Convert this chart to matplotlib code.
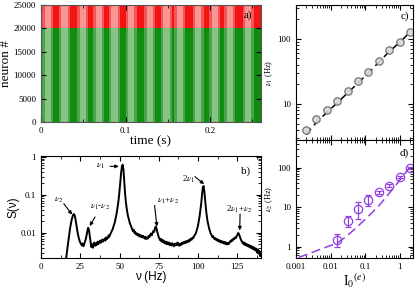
import numpy as np
import matplotlib
matplotlib.use('Agg')
import matplotlib.pyplot as plt
from matplotlib.ticker import MultipleLocator, LogLocator, NullFormatter, FixedLocator, FixedFormatter

plt.rcParams['font.family'] = ['Liberation Serif', 'DejaVu Serif']
plt.rcParams['mathtext.fontset'] = 'stix'

# ---- panel a: raster, times of the low-activity (speckled) bands, seconds
band_centers = [0.0079, 0.0277, 0.0494, 0.0684, 0.0870, 0.1067, 0.1285,
                0.1482, 0.1640, 0.1858, 0.2055, 0.2233, 0.2451]
band_width = 0.013
n_exc = 20000
n_tot = 25000

# ---- panel b: spectrum, sampled every 0.5 Hz from 16 to 140 Hz
nu = np.arange(16.0, 140.01, 0.5)
S = [0.0021, 0.0030, 0.0045, 0.0065, 0.0090, 0.013, 0.017, 0.022, 0.026, 0.030,
     0.031, 0.028, 0.022, 0.016, 0.012, 0.009, 0.0075, 0.0062, 0.0055, 0.0050,
     0.0046, 0.0052, 0.0044, 0.0050, 0.0058, 0.0068, 0.0085, 0.011, 0.0135, 0.012,
     0.0085, 0.0060, 0.0042, 0.0050, 0.0040, 0.0048, 0.0055, 0.0045, 0.0052, 0.0048,
     0.0058, 0.0050, 0.0056, 0.0062, 0.0054, 0.0060, 0.0066, 0.0058, 0.0064, 0.0070,
     0.0062, 0.0075, 0.0068, 0.0072, 0.0085, 0.0078, 0.0090, 0.0098, 0.011, 0.012,
     0.014, 0.016, 0.019, 0.024, 0.030, 0.040, 0.055, 0.080, 0.13, 0.22,
     0.38, 0.55, 0.62, 0.45, 0.22, 0.11, 0.065, 0.045, 0.033, 0.026,
     0.022, 0.018, 0.016, 0.014, 0.0125, 0.011, 0.012, 0.0098, 0.0105, 0.0090,
     0.0095, 0.0085, 0.0092, 0.0080, 0.0088, 0.0078, 0.0084, 0.0075, 0.0082, 0.0076,
     0.0070, 0.0078, 0.0068, 0.0074, 0.0070, 0.0082, 0.0076, 0.0088, 0.0095, 0.0085,
     0.0098, 0.011, 0.0105, 0.013, 0.0145, 0.013, 0.0105, 0.0088, 0.0075, 0.0068,
     0.0062, 0.0068, 0.0058, 0.0064, 0.0055, 0.0060, 0.0052, 0.0058, 0.0050, 0.0056,
     0.0049, 0.0055, 0.0047, 0.0052, 0.0046, 0.0053, 0.0048, 0.0044, 0.0051, 0.0046,
     0.0052, 0.0047, 0.0055, 0.0049, 0.0045, 0.0051, 0.0047, 0.0054, 0.0050, 0.0056,
     0.0052, 0.0058, 0.0053, 0.0060, 0.0056, 0.0062, 0.0058, 0.0066, 0.0062, 0.0070,
     0.0066, 0.0075, 0.0072, 0.0082, 0.0088, 0.0095, 0.011, 0.013, 0.016, 0.021,
     0.028, 0.040, 0.060, 0.100, 0.155, 0.17, 0.12, 0.070, 0.042, 0.028,
     0.020, 0.016, 0.013, 0.011, 0.0095, 0.0088, 0.0078, 0.0082, 0.0072, 0.0068,
     0.0072, 0.0064, 0.0068, 0.0060, 0.0065, 0.0058, 0.0062, 0.0055, 0.0060, 0.0054,
     0.0058, 0.0052, 0.0057, 0.0050, 0.0055, 0.0049, 0.0054, 0.0050, 0.0056, 0.0060,
     0.0058, 0.0065, 0.0062, 0.0070, 0.0068, 0.0075, 0.0072, 0.0080, 0.0090, 0.0098,
     0.0092, 0.0080, 0.0070, 0.0062, 0.0058, 0.0052, 0.0056, 0.0048, 0.0053, 0.0046,
     0.0050, 0.0044, 0.0048, 0.0042, 0.0046, 0.0040, 0.0044, 0.0038, 0.0042, 0.0036,
     0.0040, 0.0034, 0.0038, 0.0030, 0.0036, 0.0028, 0.0033, 0.0024, 0.0030]

# ---- panels c, d
I0 = [0.00195, 0.0039, 0.0078, 0.0156, 0.03125, 0.0625, 0.125, 0.25, 0.5, 1.0, 2.0]
nu1_sim = [3.94, 5.9, 8.2, 11.2, 16.0, 22.2, 31.3, 46.0, 68.0, 89.0, 129.0]
nu1_theory = [3.4, 5.2, 7.4, 10.4, 14.8, 21.0, 30.0, 44.0, 64.0, 88.0, 128.0]

I0_d = [0.0156, 0.03125, 0.0625, 0.125, 0.25, 0.5, 1.0, 2.0]
nu2_sim = [1.5, 4.5, 9.0, 15.0, 24.0, 35.0, 57.0, 98.0]
nu2_lo = [0.5, 1.4, 4.0, 4.6, 2.0, 3.0, 3.0, 4.0]
nu2_hi = [0.6, 1.5, 4.2, 5.0, 2.0, 3.0, 3.0, 4.0]
I0_theory_d = [0.0012, 0.002, 0.0039, 0.0078, 0.0156, 0.031, 0.0625, 0.125, 0.25, 0.5, 1.0, 2.0]
nu2_theory = [0.53, 0.62, 0.78, 0.98, 1.22, 1.9, 3.3, 5.9, 10.8, 22.5, 48.0, 105.0]

purple = '#9040e0'
tick_kw = dict(direction='in', top=True, right=True, labelsize=6.5)

fig = plt.figure(figsize=(4.15, 2.96), dpi=100)

# ----- a
ax = fig.add_axes([0.0988, 0.588, 0.530, 0.395])
ax.axhspan(0, n_exc, color='#118c11', lw=0)
ax.axhspan(n_exc, n_tot, color='#f21414', lw=0)
for t in band_centers:
    # wide, mildly speckled halo and a lighter core
    ax.fill_between([t - band_width / 2, t + band_width / 2], 0, n_exc, color='#4aa44a', lw=0)
    ax.fill_between([t - band_width / 3.5, t + band_width / 3.5], 0, n_exc, color='#86c486', lw=0)
    ax.fill_between([t - band_width / 2, t + band_width / 2], n_exc, n_tot, color='#f55656', lw=0)
    ax.fill_between([t - band_width / 3.5, t + band_width / 3.5], n_exc, n_tot, color='#f99595', lw=0)
ax.set_xlim(0, 0.26)
ax.set_ylim(0, n_tot)
ax.xaxis.set_major_locator(FixedLocator([0, 0.1, 0.2]))
ax.xaxis.set_major_formatter(FixedFormatter(['0', '0.1', '0.2']))
ax.xaxis.set_minor_locator(MultipleLocator(0.05))
ax.yaxis.set_major_locator(MultipleLocator(5000))
ax.tick_params(**tick_kw)
ax.tick_params(which='minor', direction='in', top=True)
ax.set_xlabel('time (s)', fontsize=9.5, labelpad=0)
ax.set_ylabel('neuron #', fontsize=9.5, labelpad=1)
ax.text(0.94, 0.91, 'a)', transform=ax.transAxes, fontsize=8, ha='center', va='center')
for s in ax.spines.values():
    s.set_color('#555555')

# ----- b
ax = fig.add_axes([0.0988, 0.127, 0.530, 0.346])
ax.plot(nu, S, color='black', lw=1.4)
ax.set_yscale('log')
ax.set_xlim(0, 140)
ax.set_ylim(0.0021, 1.05)
ax.xaxis.set_major_locator(MultipleLocator(25))
ax.xaxis.set_minor_locator(MultipleLocator(12.5))
ax.yaxis.set_major_locator(FixedLocator([0.01, 0.1, 1]))
ax.yaxis.set_major_formatter(FixedFormatter(['0.01', '0.1', '1']))
ax.yaxis.set_minor_locator(LogLocator(base=10, subs=np.arange(2, 10)))
ax.yaxis.set_minor_formatter(NullFormatter())
ax.tick_params(**tick_kw)
ax.tick_params(which='minor', direction='in', top=True, right=True, length=2)
ax.set_xlabel('ν (Hz)', fontsize=8.5, family=['Liberation Sans'], labelpad=0)
ax.set_ylabel('S(ν)', fontsize=8.5, family=['Liberation Sans'], labelpad=1)
ax.text(0.93, 0.85, 'b)', transform=ax.transAxes, fontsize=8, ha='center', va='center')

arrows = [
    (r'$\nu_2$', (11.5, 0.074), (14.5, 0.058), (19.8, 0.030)),
    (r'$\nu_1$-$\nu_2$', (37.5, 0.049), (34.4, 0.026), (31.0, 0.015)),
    (r'$\nu_1$', (37.6, 0.59), (44.0, 0.56), (49.5, 0.56)),
    (r'$\nu_1$+$\nu_2$', (80.6, 0.069), (72.3, 0.052), (73.8, 0.0145)),
    (r'2$\nu_1$', (94.2, 0.26), (98.0, 0.30), (103.8, 0.19)),
    (r'2$\nu_1$+$\nu_2$', (126.2, 0.040), (126.7, 0.031), (126.5, 0.0115)),
]
for label, tpos, tail, head in arrows:
    ax.text(tpos[0], tpos[1], label, fontsize=6.5, ha='center', va='center')
    ax.annotate('', xy=head, xytext=tail,
                arrowprops=dict(arrowstyle='-|>', color='black', lw=0.8,
                                mutation_scale=5, shrinkA=0, shrinkB=0))

# ----- c
ax = fig.add_axes([0.713, 0.527, 0.282, 0.456])
ax.plot(I0, nu1_theory, color='black', ls=(0, (5, 3)), lw=1.1)
ax.plot(I0, nu1_sim, 'o', ms=5.3, mfc='#d8d8d8', mec='#666666', mew=0.9, alpha=0.9)
ax.set_xscale('log')
ax.set_yscale('log')
ax.set_xlim(0.001, 2.4)
ax.set_ylim(2.8, 330)
ax.yaxis.set_major_locator(FixedLocator([10, 100]))
ax.yaxis.set_major_formatter(FixedFormatter(['10', '100']))
ax.yaxis.set_minor_locator(LogLocator(base=10, subs=np.arange(2, 10)))
ax.yaxis.set_minor_formatter(NullFormatter())
ax.xaxis.set_minor_locator(LogLocator(base=10, subs=np.arange(2, 10)))
ax.xaxis.set_major_formatter(NullFormatter())
ax.xaxis.set_minor_formatter(NullFormatter())
ax.tick_params(**tick_kw)
ax.tick_params(which='minor', direction='in', top=True, right=True, length=2)
ax.set_ylabel(r'$\nu_1$ (Hz)', fontsize=6, labelpad=2)
ax.text(0.93, 0.92, 'c)', transform=ax.transAxes, fontsize=8, ha='center', va='center')

# ----- d
ax = fig.add_axes([0.713, 0.127, 0.282, 0.400])
ax.plot(I0_theory_d, nu2_theory, color=purple, ls=(0, (6, 3)), lw=1.1)
ax.errorbar(I0_d, nu2_sim, yerr=[nu2_lo, nu2_hi], fmt='o', ms=6, mfc='none',
            mec=purple, ecolor=purple, mew=0.9, elinewidth=0.9, capsize=2.5)
ax.set_xscale('log')
ax.set_yscale('log')
ax.set_xlim(0.001, 2.4)
ax.set_ylim(0.5, 500)
ax.xaxis.set_major_locator(FixedLocator([0.001, 0.01, 0.1, 1]))
ax.xaxis.set_major_formatter(FixedFormatter(['0.001', '0.01', '0.1', '1']))
ax.yaxis.set_major_locator(FixedLocator([1, 10, 100]))
ax.yaxis.set_major_formatter(FixedFormatter(['1', '10', '100']))
for axis in (ax.xaxis, ax.yaxis):
    axis.set_minor_locator(LogLocator(base=10, subs=np.arange(2, 10)))
    axis.set_minor_formatter(NullFormatter())
ax.tick_params(**tick_kw)
ax.tick_params(which='minor', direction='in', top=True, right=True, length=2)
ax.set_ylabel(r'$\nu_2$ (Hz)', fontsize=6, labelpad=2)
ax.set_xlabel(r'I$_0$$^{(e)}$', fontsize=10, labelpad=0)
ax.text(0.93, 0.89, 'd)', transform=ax.transAxes, fontsize=8, ha='center', va='center')

fig.savefig('out.png', dpi=100)
